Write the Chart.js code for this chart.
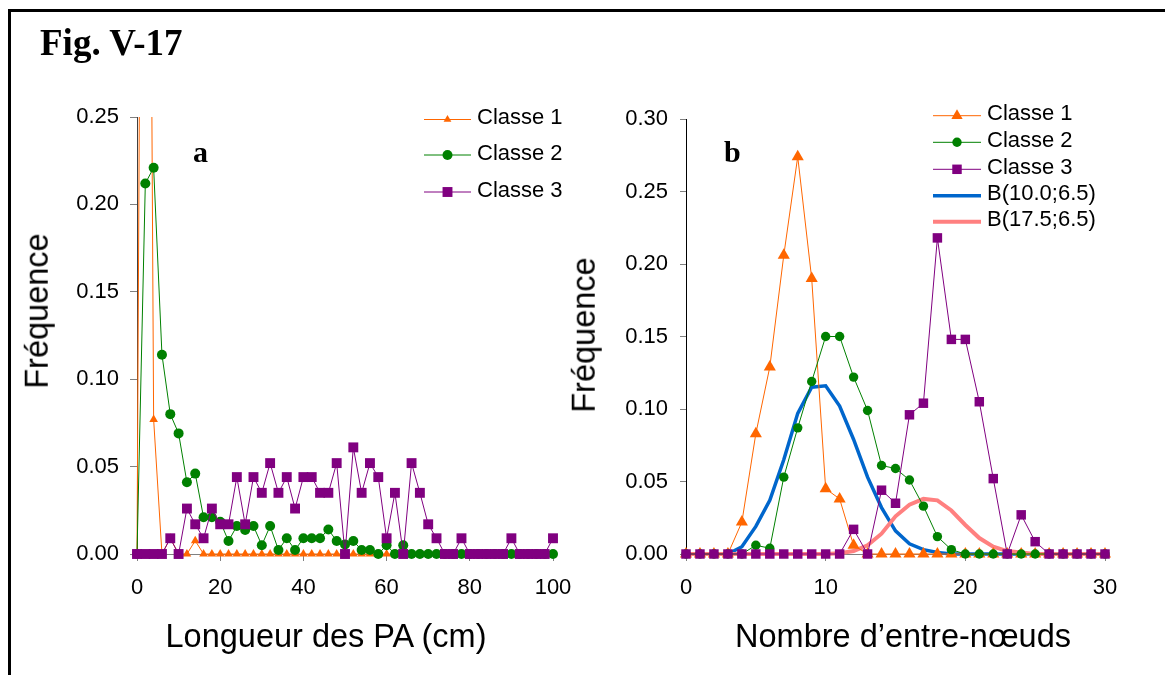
<!DOCTYPE html>
<html><head><meta charset="utf-8">
<script src="https://cdn.jsdelivr.net/npm/chart.js@4.4.0/dist/chart.umd.min.js"></script>
<style>
html,body{margin:0;padding:0;background:#fff;}
body{width:1165px;height:675px;position:relative;overflow:hidden;font-family:'Liberation Sans',Arial,sans-serif;}
#frame{position:absolute;left:8px;top:9px;width:1200px;height:700px;border-left:3px solid #000;border-top:3px solid #000;}
canvas{position:absolute;top:0;}
#c1{left:0;} #c2{left:600px;}
.t{position:absolute;white-space:nowrap;line-height:1;color:#000;}
.fig{left:40px;top:24px;font:bold 37px 'Liberation Serif','Times New Roman',serif;line-height:37px;}
.lab{font:bold 30px 'Liberation Serif','Times New Roman',serif;line-height:30px;top:137px;}
.ax{font-size:32.5px;transform:translate(-50%,-50%);}
.ay{font-size:32.5px;transform:translate(-50%,-50%) rotate(-90deg);}
</style></head>
<body>
<div id="frame"></div>
<canvas id="c1" width="600" height="675"></canvas>
<canvas id="c2" width="565" height="675"></canvas>
<div class="t fig">Fig. V-17</div>
<div class="t lab" style="left:193px;">a</div>
<div class="t lab" style="left:724px;">b</div>
<div class="t ax" style="left:326px;top:636px;">Longueur des PA (cm)</div>
<div class="t ax" style="left:903px;top:636px;">Nombre d’entre-nœuds</div>
<div class="t ay" style="left:37px;top:311px;">Fréquence</div>
<div class="t ay" style="left:584px;top:335px;">Fréquence</div>
<script>
// ---------- data (panel a) ----------
const lenCm = [0,2,4,6,8,10,12,14,16,18,20,22,24,26,28,30,32,34,36,38,40,42,44,46,48,50,52,54,56,58,60,62,64,66,68,70,72,74,76,78,80,82,84,86,88,90,92,94,96,98,100];
const classe1Len = [0,0.906,0.077,0,0.009,0,0,0.0076,0,0,0,0,0,0,0,0,0,0,0,0,0,0,0,0,0,0,0,0,0,0,0,0,0,0,0,0,0,0,0,0,0,0,0,0,0,0,0,0,0,0,0];
const classe2Len = [0,0.212,0.221,0.114,0.080,0.069,0.041,0.046,0.021,0.021,0.0185,0.0074,0.016,0.0137,0.016,0.005,0.016,0.0023,0.009,0.0023,0.009,0.009,0.009,0.014,0.0074,0.0055,0.0074,0.0023,0.0023,0,0.005,0,0.005,0,0,0,0,0,0,0,0,0,0,0,0,0,0,0,0,0,0];
const classe3Len = [0,0,0,0,0.009,0,0.026,0.017,0.009,0.026,0.017,0.017,0.044,0.017,0.044,0.035,0.052,0.035,0.044,0.026,0.044,0.044,0.035,0.035,0.052,0,0.061,0.035,0.052,0.044,0.009,0.035,0,0.052,0.035,0.017,0.009,0,0,0.009,0,0,0,0,0,0.009,0,0,0,0,0.009];
const ticksA = [0,20,40,60,80,100];
// ---------- data (panel b) ----------
const nodes = [0,1,2,3,4,5,6,7,8,9,10,11,12,13,14,15,16,17,18,19,20,21,22,23,24,25,26,27,28,29,30];
const classe1Nodes = [0,0,0,0,0.022,0.083,0.129,0.206,0.274,0.190,0.045,0.038,0.006,0,0,0,0,0,0,0,0,0,0,0,0,0,0,0,0,0,0];
const classe2Nodes = [0,0,0,0,0,0.006,0.004,0.053,0.087,0.119,0.150,0.150,0.122,0.099,0.061,0.059,0.051,0.033,0.012,0.003,0,0,0,0,0,0,0,0,0,0,0];
const classe3Nodes = [0,0,0,0,0,0,0,0,0,0,0,0,0.017,0,0.044,0.035,0.096,0.104,0.218,0.148,0.148,0.105,0.052,0,0.027,0.0085,0,0,0,0,0];
const binom10 = [0,0,0,0,0.005,0.019,0.037,0.065,0.097,0.115,0.116,0.102,0.079,0.053,0.032,0.016,0.007,0.003,0.001,0,0,0,0,0,0,0,0,0,0,0,0];
const binom175 = [0,0,0,0,0,0,0,0,0,0,0,0.0005,0.002,0.006,0.014,0.026,0.034,0.038,0.037,0.030,0.020,0.011,0.005,0.002,0.001,0,0,0,0,0,0];
const ticksB = [0,10,20,30];

const FONT = "'Liberation Sans', Arial, sans-serif";
Chart.defaults.font.family = FONT;
Chart.defaults.color = '#000';
Chart.defaults.animation = false;

const ORANGE = '#FF6600', GREEN = '#008000', PURPLE = '#800080', BLUE = '#0066CC', PINK = '#FF8080';

function pts(xs, ys){ return xs.map((x,i)=>({x:x, y:ys[i]})); }

function marker(ctx, style, r, x, y){
  ctx.beginPath();
  if (style === 'circle') { ctx.arc(x, y, r, 0, Math.PI*2); }
  else if (style === 'rect') { const s = r*Math.SQRT1_2; ctx.rect(x-s, y-s, 2*s, 2*s); }
  else if (style === 'triangle') {
    ctx.moveTo(x, y - r);
    ctx.lineTo(x + r*Math.sin(Math.PI*2/3), y - r*Math.cos(Math.PI*2/3));
    ctx.lineTo(x + r*Math.sin(Math.PI*4/3), y - r*Math.cos(Math.PI*4/3));
    ctx.closePath();
  }
  ctx.fill();
}

const markerLegend = {
  id: 'markerLegend',
  afterDraw(chart, args, o){
    const ctx = chart.ctx;
    ctx.save();
    chart.data.datasets.forEach((ds, i) => {
      const y = o.rows[i];
      ctx.strokeStyle = ds.borderColor;
      ctx.lineWidth = ds.borderWidth;
      ctx.beginPath(); ctx.moveTo(o.x1, y); ctx.lineTo(o.x2, y); ctx.stroke();
      if (ds.pointRadius > 0) {
        ctx.fillStyle = ds.pointBackgroundColor;
        marker(ctx, ds.pointStyle, ds.legendRadius || ds.pointRadius, (o.x1 + o.x2)/2, y);
      }
      ctx.fillStyle = '#000';
      ctx.font = o.fontSize + 'px ' + FONT;
      ctx.textBaseline = 'middle';
      ctx.textAlign = 'left';
      ctx.fillText(ds.label, o.tx, y - 1.5);
    });
    ctx.restore();
  }
};

function axisX(min, max, list, h){
  return {
    type:'linear', min:min, max:max,
    afterBuildTicks(s){ s.ticks = list.map(v=>({value:v})); },
    ticks:{font:{size:22}, padding:14, color:'#000', maxRotation:0, autoSkip:false},
    grid:{drawOnChartArea:false, drawTicks:true, tickLength:7, color:'#808080'},
    border:{display:true, color:'#808080', width:1},
    afterFit(s){ s.height = h; }
  };
}
function axisY(max, w, tl, pad, lineColor){
  return {
    min:0, max:max,
    ticks:{stepSize:0.05, font:{size:22}, padding:pad, color:'#000', callback:v=>Number(v).toFixed(2)},
    grid:{drawOnChartArea:false, drawTicks:true, tickLength:tl, color:'#808080'},
    border:{display:true, color:lineColor, width:1},
    afterFit(s){ s.width = w; }
  };
}

const clipA = {left:12, top:0, right:12, bottom:12};
new Chart(document.getElementById('c1'), {
  type:'line',
  data:{datasets:[
    {label:'Classe 1', data:pts(lenCm, classe1Len), borderColor:ORANGE, pointBackgroundColor:ORANGE, borderWidth:1, pointStyle:'triangle', pointRadius:5, legendRadius:4.5, pointBorderWidth:0, order:3, clip:clipA},
    {label:'Classe 2', data:pts(lenCm, classe2Len), borderColor:GREEN, pointBackgroundColor:GREEN, borderWidth:1, pointStyle:'circle', pointRadius:5, pointBorderWidth:0, order:2, clip:clipA},
    {label:'Classe 3', data:pts(lenCm, classe3Len), borderColor:PURPLE, pointBackgroundColor:PURPLE, borderWidth:1, pointStyle:'rect', pointRadius:7, pointBorderWidth:0, order:1, clip:clipA}
  ]},
  options:{
    responsive:false, animation:false,
    layout:{padding:{left:0, top:117, right:47, bottom:0}},
    plugins:{legend:{display:false}, tooltip:{enabled:false},
      markerLegend:{x1:424, x2:471, tx:477, rows:[119.5,155,192], fontSize:22}},
    scales:{ x:axisX(0,100,ticksA,121), y:axisY(0.25,137,7,11,'#404040') }
  },
  plugins:[markerLegend]
});

const clipB = {left:12, top:12, right:12, bottom:12};
new Chart(document.getElementById('c2'), {
  type:'line',
  data:{datasets:[
    {label:'Classe 1', data:pts(nodes, classe1Nodes), borderColor:ORANGE, pointBackgroundColor:ORANGE, borderWidth:1, pointStyle:'triangle', pointRadius:7, legendRadius:6.5, pointBorderWidth:0, order:3, clip:clipB},
    {label:'Classe 2', data:pts(nodes, classe2Nodes), borderColor:GREEN, pointBackgroundColor:GREEN, borderWidth:1, pointStyle:'circle', pointRadius:4.7, pointBorderWidth:0, order:2, clip:clipB},
    {label:'Classe 3', data:pts(nodes, classe3Nodes), borderColor:PURPLE, pointBackgroundColor:PURPLE, borderWidth:1, pointStyle:'rect', pointRadius:6.7, pointBorderWidth:0, order:1, clip:clipB},
    {label:'B(10.0;6.5)', data:pts(nodes, binom10), borderColor:BLUE, pointBackgroundColor:BLUE, borderWidth:3.5, pointRadius:0, order:5, clip:clipB},
    {label:'B(17.5;6.5)', data:pts(nodes, binom175), borderColor:PINK, pointBackgroundColor:PINK, borderWidth:4, pointRadius:0, order:4, clip:clipB}
  ]},
  options:{
    responsive:false, animation:false,
    layout:{padding:{left:0, top:119, right:60, bottom:0}},
    plugins:{legend:{display:false}, tooltip:{enabled:false},
      markerLegend:{x1:333, x2:381, tx:387, rows:[115.7,142.3,169.3,195.7,221.7], fontSize:22}},
    scales:{ x:axisX(0,30,ticksB,121), y:axisY(0.30,86,6,12,'#000') }
  },
  plugins:[markerLegend]
});
</script>
</body></html>
